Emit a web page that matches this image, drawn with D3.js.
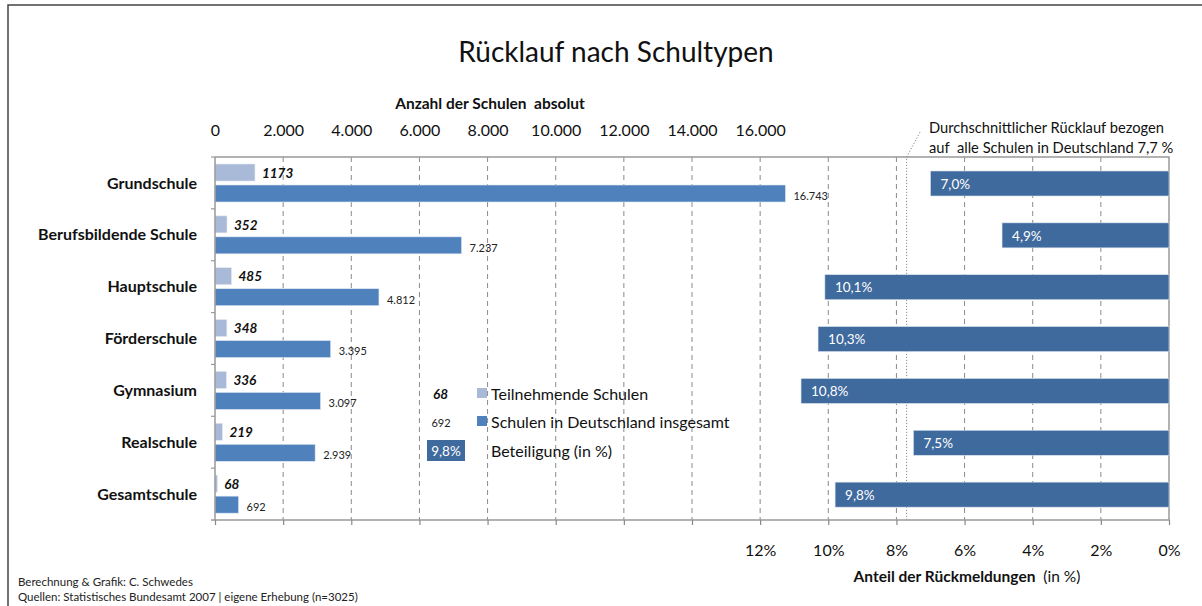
<!DOCTYPE html>
<html>
<head>
<meta charset="utf-8">
<script src="https://cdn.jsdelivr.net/npm/d3@7"></script>
<style>
  body { margin: 0; background: #fff; }
  svg { font-family: Lato, "Open Sans", sans-serif; }
  svg text { white-space: pre; }
</style>
</head>
<body>
<div id="chart"></div>
<script>
// Daten
var categories = ["Grundschule", "Berufsbildende Schule", "Hauptschule", "Förderschule", "Gymnasium", "Realschule", "Gesamtschule"];
var teilnehmend = [1173, 352, 485, 348, 336, 219, 68];
var gesamt = [16743, 7237, 4812, 3395, 3097, 2939, 692];
var beteiligung = [7.0, 4.9, 10.1, 10.3, 10.8, 7.5, 9.8];
var durchschnitt = 7.7;
var countTicks = [0, 2000, 4000, 6000, 8000, 10000, 12000, 14000, 16000];
var pctTicks = [0, 2, 4, 6, 8, 10, 12];
var gridTicks = [0, 2, 4, 6, 8, 10, 12, 14, 16, 18, 20, 22, 24, 26, 28];

var svgWidth = 1202;
var svgHeight = 606;
var plot = { left: 215, right: 1169, top: 157, bottom: 520 };

var colLight = "#a9b9d8";
var colDark = "#4f81bd";
var colPct = "#3f6a9e";

var de = d3.formatLocale({ decimal: ",", thousands: ".", grouping: [3], currency: ["", " €"] });
var fmtInt = de.format(",");
var fmtPct = de.format(".1f");

var svg = d3.select("#chart")
  .append("svg")
  .attr("width", svgWidth)
  .attr("height", svgHeight);

// Rahmen
svg.append("path")
  .attr("d", "M8,606 L8,5 L1202,5")
  .attr("fill", "none")
  .attr("stroke", "#444")
  .attr("stroke-width", 1.5);

// Scales
var x = d3.scaleLinear().domain([0, 28000]).range([plot.left, plot.right]);
var p = d3.scaleLinear().domain([0, 28]).range([plot.right, plot.left]);
var y = d3.scaleBand().domain(categories).range([plot.top, plot.bottom]).padding(0);
var bw = y.bandwidth();

// Gitternetz
svg.append("g")
  .selectAll("line")
  .data(gridTicks.filter(d => d > 0 && d < 28))
  .enter()
  .append("line")
  .attr("x1", d => p(d))
  .attr("x2", d => p(d))
  .attr("y1", plot.top)
  .attr("y2", plot.bottom)
  .attr("stroke", "#8a8a8a")
  .attr("stroke-dasharray", "5,4");

// Rahmen Plotbereich (oben, rechts)
svg.append("path")
  .attr("d", `M${plot.left},${plot.top} L${plot.right},${plot.top} L${plot.right},${plot.bottom}`)
  .attr("fill", "none")
  .attr("stroke", "#999")
  .attr("stroke-width", 1.5);

// Durchschnittslinie
svg.append("path")
  .attr("d", `M${p(durchschnitt)},${plot.bottom} L${p(durchschnitt)},${plot.top} L${p(durchschnitt) + 14},${plot.top - 26}`)
  .attr("fill", "none")
  .attr("stroke", "#888")
  .attr("stroke-dasharray", "1.2,1.8");

// Beteiligung (rechts, gespiegelt)
svg.append("g")
  .selectAll("rect")
  .data(beteiligung)
  .enter()
  .append("rect")
  .attr("x", d => p(d))
  .attr("y", (d, i) => y(categories[i]) + 14)
  .attr("width", d => p(0) - p(d))
  .attr("height", 25)
  .attr("fill", colPct)
  .attr("stroke", "#d8e0ec")
  .attr("stroke-width", 0.6);

svg.append("g")
  .selectAll("text")
  .data(beteiligung)
  .enter()
  .append("text")
  .attr("x", d => p(d) + 10)
  .attr("y", (d, i) => y(categories[i]) + 27)
  .attr("dy", "0.35em")
  .attr("font-size", "13.5px")
  .attr("fill", "#fff")
  .text(d => fmtPct(d) + "%");

// Teilnehmende Schulen
svg.append("g")
  .selectAll("rect")
  .data(teilnehmend)
  .enter()
  .append("rect")
  .attr("x", x(0))
  .attr("y", (d, i) => y(categories[i]) + 7)
  .attr("width", d => x(d) - x(0))
  .attr("height", 17)
  .attr("fill", colLight)
  .attr("stroke", "#e3e8f2")
  .attr("stroke-width", 0.6);

svg.append("g")
  .selectAll("text")
  .data(teilnehmend)
  .enter()
  .append("text")
  .attr("x", d => x(d) + 7)
  .attr("y", (d, i) => y(categories[i]) + 16)
  .attr("dy", "0.35em")
  .attr("font-size", "13.5px")
  .attr("font-weight", "bold")
  .attr("font-style", "italic")
  .attr("fill", "#111")
  .text(d => d);

// Schulen in Deutschland insgesamt
svg.append("g")
  .selectAll("rect")
  .data(gesamt)
  .enter()
  .append("rect")
  .attr("x", x(0))
  .attr("y", (d, i) => y(categories[i]) + 28)
  .attr("width", d => x(d) - x(0))
  .attr("height", 17)
  .attr("fill", colDark)
  .attr("stroke", "#dfe6f1")
  .attr("stroke-width", 0.6);

svg.append("g")
  .selectAll("text")
  .data(gesamt)
  .enter()
  .append("text")
  .attr("x", d => x(d) + 8)
  .attr("y", (d, i) => y(categories[i]) + 39)
  .attr("dy", "0.35em")
  .attr("font-size", "11px")
  .attr("fill", "#222")
  .text(d => fmtInt(d));

// Achsen
var topAxis = d3.axisTop(x).tickValues(countTicks).tickSize(0).tickPadding(6).tickFormat(fmtInt);
var topG = svg.append("g")
  .attr("transform", "translate(0,142)")
  .call(topAxis);
topG.select(".domain").remove();
topG.selectAll("text").attr("font-size", "16px").attr("fill", "#111").attr("font-family", "Lato, sans-serif");

var bottomTicks = d3.axisBottom(p).tickValues(gridTicks).tickSize(5).tickFormat("");
var botG = svg.append("g")
  .attr("transform", `translate(0,${plot.bottom})`)
  .call(bottomTicks);
botG.select(".domain").attr("stroke", "#999").attr("stroke-width", 1.5).attr("d", `M${plot.left - 4},0H${plot.right}`);
botG.selectAll(".tick line").attr("stroke", "#888").attr("stroke-width", 1.2);

var bottomLabels = d3.axisBottom(p).tickValues(pctTicks).tickSize(0).tickPadding(25).tickFormat(d => d + "%");
var botL = svg.append("g")
  .attr("transform", `translate(0,${plot.bottom})`)
  .call(bottomLabels);
botL.select(".domain").remove();
botL.selectAll("text").attr("font-size", "16px").attr("fill", "#111").attr("font-family", "Lato, sans-serif");

// linke Achse
svg.append("line")
  .attr("x1", plot.left).attr("x2", plot.left)
  .attr("y1", plot.top).attr("y2", plot.bottom)
  .attr("stroke", "#999").attr("stroke-width", 1.5);

svg.append("g")
  .selectAll("line")
  .data(categories)
  .enter()
  .append("line")
  .attr("x1", plot.left - 4).attr("x2", plot.left)
  .attr("y1", d => y(d)).attr("y2", d => y(d))
  .attr("stroke", "#999").attr("stroke-width", 1.2);

svg.append("g")
  .selectAll("text")
  .data(categories)
  .enter()
  .append("text")
  .attr("x", 197)
  .attr("y", d => y(d) + bw / 2)
  .attr("dy", "0.35em")
  .attr("text-anchor", "end")
  .attr("font-size", "16px")
  .attr("font-weight", "bold")
  .attr("fill", "#111")
  .text(d => d);

// Titel
svg.append("text")
  .attr("x", 616).attr("y", 62)
  .attr("text-anchor", "middle")
  .attr("font-size", "28px")
  .attr("fill", "#111")
  .text("Rücklauf nach Schultypen");

svg.append("text")
  .attr("x", 490).attr("y", 109)
  .attr("text-anchor", "middle")
  .attr("font-size", "15.5px")
  .attr("font-weight", "bold")
  .attr("fill", "#111")
  .text("Anzahl der Schulen  absolut");

var axTitle = svg.append("text")
  .attr("x", 967).attr("y", 582)
  .attr("text-anchor", "middle")
  .attr("font-size", "15.5px")
  .attr("fill", "#111");
axTitle.append("tspan").attr("font-weight", "bold").text("Anteil der Rückmeldungen");
axTitle.append("tspan").text("  (in %)");

// Hinweis Durchschnitt
var note = svg.append("text")
  .attr("x", 929)
  .attr("font-size", "14.7px")
  .attr("fill", "#111");
note.append("tspan").attr("x", 929).attr("y", 133).text("Durchschnittlicher Rücklauf bezogen");
note.append("tspan").attr("x", 929).attr("y", 153).text("auf  alle Schulen in Deutschland 7,7 %");

// Legende
var legendG = svg.append("g");
legendG.append("text")
  .attr("x", 433).attr("y", 399)
  .attr("font-size", "13.5px").attr("font-weight", "bold").attr("font-style", "italic")
  .attr("fill", "#111")
  .text(teilnehmend[6]);
legendG.append("text")
  .attr("x", 441).attr("y", 427)
  .attr("text-anchor", "middle")
  .attr("font-size", "11px").attr("fill", "#222")
  .text(gesamt[6]);
legendG.append("rect")
  .attr("x", 427).attr("y", 440).attr("width", 38).attr("height", 21)
  .attr("fill", colPct);
legendG.append("text")
  .attr("x", 446).attr("y", 451)
  .attr("dy", "0.35em")
  .attr("text-anchor", "middle")
  .attr("font-size", "13.5px").attr("fill", "#fff")
  .text(fmtPct(beteiligung[6]) + "%");

var legendItems = [
  { label: "Teilnehmende Schulen", color: colLight, y: 394 },
  { label: "Schulen in Deutschland insgesamt", color: colDark, y: 422 },
  { label: "Beteiligung (in %)", color: null, y: 451 }
];
legendItems.forEach(function(item) {
  if (item.color) {
    legendG.append("rect")
      .attr("x", 477).attr("y", item.y - 6).attr("width", 10).attr("height", 10)
      .attr("fill", item.color);
  }
  legendG.append("text")
    .attr("x", 491).attr("y", item.y)
    .attr("dy", "0.35em")
    .attr("font-size", "16px").attr("fill", "#111")
    .text(item.label);
});

// Quellen
svg.append("text")
  .attr("x", 18).attr("y", 586)
  .attr("font-size", "11.5px").attr("fill", "#222")
  .text("Berechnung & Grafik: C. Schwedes");
svg.append("text")
  .attr("x", 18).attr("y", 601)
  .attr("font-size", "11.5px").attr("fill", "#222")
  .text("Quellen: Statistisches Bundesamt 2007 | eigene Erhebung (n=3025)");
</script>
</body>
</html>
